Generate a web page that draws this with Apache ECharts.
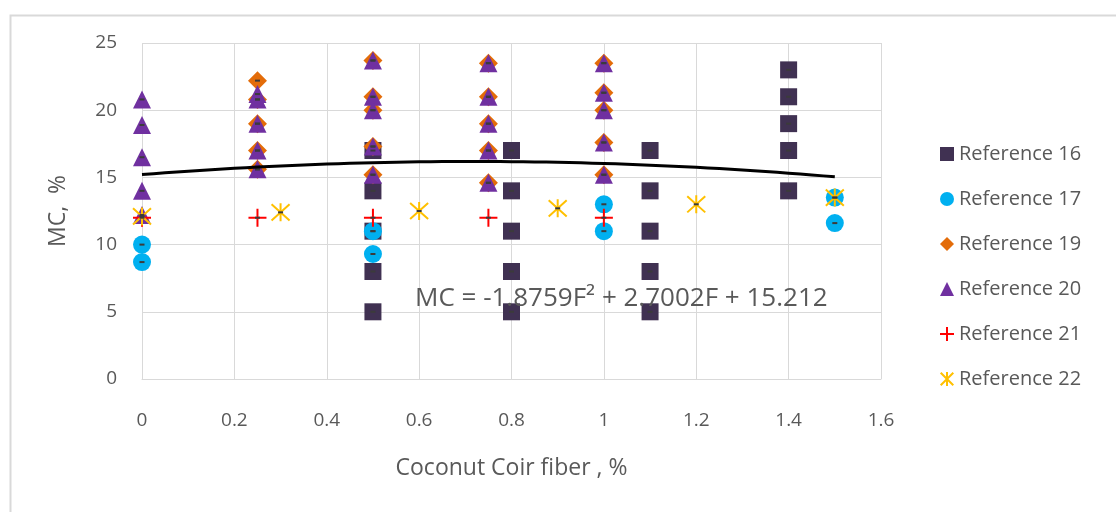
<!DOCTYPE html>
<html>
<head>
<meta charset="utf-8">
<title>MC vs Coconut Coir fiber</title>
<script src="https://cdn.jsdelivr.net/npm/echarts@6/dist/echarts.min.js"></script>
<style>
  html, body { margin: 0; padding: 0; background: #fff; }
  #chart { width: 1116px; height: 512px; }
</style>
</head>
<body>
<div id="chart"></div>
<script>
// Moisture content (MC, %) against coconut coir fibre content (%), by source
const ref16 = [[0.5, 17], [0.5, 14], [0.5, 11], [0.5, 8], [0.5, 5],
               [0.8, 17], [0.8, 14], [0.8, 11], [0.8, 8], [0.8, 5],
               [1.1, 17], [1.1, 14], [1.1, 11], [1.1, 8], [1.1, 5],
               [1.4, 23], [1.4, 21], [1.4, 19], [1.4, 17], [1.4, 14]];
const ref17 = [[0, 10], [0, 8.7], [0.5, 11], [0.5, 9.3], [1, 13], [1, 11], [1.5, 13.5], [1.5, 11.6]];
const ref19 = [[0.25, 22.2], [0.25, 20.8], [0.25, 19], [0.25, 17], [0.25, 15.6],
               [0.5, 23.7], [0.5, 21], [0.5, 20], [0.5, 17.3], [0.5, 15.2],
               [0.75, 23.5], [0.75, 21], [0.75, 19], [0.75, 17], [0.75, 14.6],
               [1, 23.5], [1, 21.3], [1, 20], [1, 17.6], [1, 15.2]];
const ref20 = [[0, 20.8], [0, 18.9], [0, 16.5], [0, 14], [0, 12.2],
               [0.25, 21.2], [0.25, 20.8], [0.25, 19], [0.25, 17], [0.25, 15.6],
               [0.5, 23.7], [0.5, 21], [0.5, 20], [0.5, 17.3], [0.5, 15.2],
               [0.75, 23.5], [0.75, 21], [0.75, 19], [0.75, 17], [0.75, 14.6],
               [1, 23.5], [1, 21.3], [1, 20], [1, 17.6], [1, 15.2]];
const ref21 = [[0, 12], [0.25, 12], [0.5, 12], [0.75, 12], [1, 12]];
const ref22 = [[0, 12.1], [0.3, 12.4], [0.6, 12.5], [0.9, 12.7], [1.2, 13], [1.5, 13.5]];

const seriesNames = ['Reference 16', 'Reference 17', 'Reference 19', 'Reference 20', 'Reference 21', 'Reference 22'];

// Second-order polynomial fit: MC = a*F^2 + b*F + c
const trendCoef = [-1.8759, 2.7002, 15.212];
const trendRange = [0, 1.5];
const trendLabel = 'MC = -1.8759F\u00B2 + 2.7002F + 15.212';

const xTicks = { min: 0, max: 1.6, interval: 0.2 };
const yTicks = { min: 0, max: 25, interval: 5 };

const FONT = '"Open Sans", sans-serif';
const TEXT = '#595959';
const GRID = '#d9d9d9';

function trendPoints() {
  const pts = [];
  const steps = 60;
  for (let i = 0; i <= steps; i++) {
    const f = trendRange[0] + (trendRange[1] - trendRange[0]) * i / steps;
    pts.push([f, trendCoef[0] * f * f + trendCoef[1] * f + trendCoef[2]]);
  }
  return pts;
}

const PLUS = 'path://M10,0L10,20M0,10L20,10';
const STAR = 'path://M1,1L19,19M19,1L1,19M10,0L10,20';

function marker(name, data, symbol, color, size) {
  return {
    name: name, type: 'scatter', data: data, symbol: symbol, symbolSize: size,
    itemStyle: { color: color, opacity: 1 }, z: 2, animation: false
  };
}
function strokeMarker(name, data, symbol, color, size) {
  return {
    name: name, type: 'scatter', data: data, symbol: symbol, symbolSize: size,
    itemStyle: { color: 'rgba(0,0,0,0)', borderColor: color, borderWidth: 2, opacity: 1 },
    z: 2, animation: false
  };
}

const allPoints = [].concat(ref16, ref17, ref19, ref20, ref21, ref22);

const chart = echarts.init(document.getElementById('chart'), null, { renderer: 'canvas' });
chart.setOption({
  backgroundColor: '#fff',
  animation: false,
  textStyle: { fontFamily: FONT, color: TEXT },
  grid: { left: 142, right: 235, top: 43, bottom: 133 },
  xAxis: {
    type: 'value', min: xTicks.min, max: xTicks.max, interval: xTicks.interval,
    name: 'Coconut Coir fiber , %', nameLocation: 'middle', nameGap: 78,
    nameTextStyle: { fontFamily: FONT, fontSize: 23, color: TEXT },
    axisLine: { show: true, lineStyle: { color: GRID, width: 1 } },
    axisTick: { show: false },
    splitLine: { show: true, lineStyle: { color: GRID, width: 1 } },
    axisLabel: { fontFamily: FONT, fontSize: 19, color: TEXT, margin: 32,
                 formatter: v => String(Math.round(v * 10) / 10) }
  },
  yAxis: {
    type: 'value', min: yTicks.min, max: yTicks.max, interval: yTicks.interval,
    name: 'MC,  %', nameLocation: 'middle', nameGap: 72, nameRotate: 90,
    nameTextStyle: { fontFamily: FONT, fontSize: 23, color: TEXT },
    axisLine: { show: false },
    axisTick: { show: false },
    splitLine: { show: true, lineStyle: { color: GRID, width: 1 } },
    axisLabel: { fontFamily: FONT, fontSize: 19, color: TEXT, margin: 25 }
  },
  legend: {
    data: seriesNames, orient: 'vertical', left: 934, top: 139,
    itemWidth: 14, itemHeight: 14, itemGap: 25,
    textStyle: { fontFamily: FONT, fontSize: 20, color: TEXT }
  },
  graphic: [
    { type: 'rect', left: 8, top: 13, z: -10, silent: true,
      shape: { width: 1200, height: 600 },
      style: { fill: 'none', stroke: GRID, lineWidth: 2 } },
    { type: 'text', left: 415, top: 286, z: 20, silent: true,
      style: { text: trendLabel, font: '26px "Open Sans", sans-serif', fill: TEXT } }
  ],
  series: [
    marker('Reference 16', ref16, 'rect', '#403152', 17),
    marker('Reference 17', ref17, 'circle', '#00b0f0', 18),
    marker('Reference 19', ref19, 'diamond', '#e36c09', 19),
    marker('Reference 20', ref20, 'triangle', '#7030a0', 18),
    strokeMarker('Reference 21', ref21, PLUS, '#ff0000', 18),
    strokeMarker('Reference 22', ref22, STAR, '#ffc000', 18),
    { name: 'centre', type: 'scatter', data: allPoints, symbol: 'rect', symbolSize: [5, 2],
      itemStyle: { color: '#3b3b3b', opacity: 1 }, z: 3, silent: true, animation: false },
    { name: 'trend', type: 'line', data: trendPoints(), showSymbol: false, symbol: 'none',
      lineStyle: { color: '#000', width: 3 }, z: 4, silent: true, animation: false }
  ]
});
</script>
</body>
</html>
